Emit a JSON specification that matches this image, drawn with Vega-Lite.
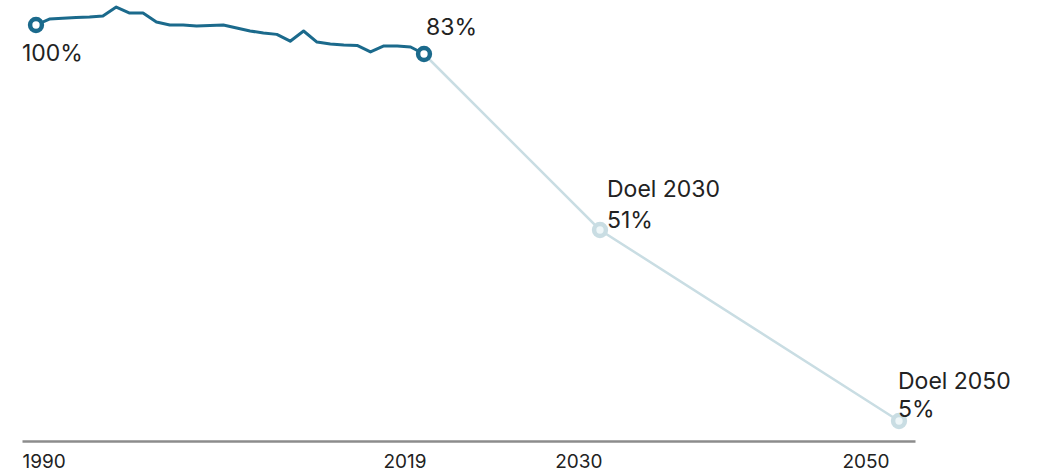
{
  "$schema": "https://vega.github.io/schema/vega-lite/v6.json",
  "width": 893,
  "height": 441,
  "autosize": "none",
  "padding": {"left": 22, "top": 0, "right": 130, "bottom": 32},
  "background": "white",
  "config": {"view": {"stroke": null}, "font": "Inter"},
  "datasets": {
    "historie": [
      {"jaar": 1990, "waarde": 100},
      {"jaar": 1991, "waarde": 103.5},
      {"jaar": 1992, "waarde": 104},
      {"jaar": 1993, "waarde": 104.4},
      {"jaar": 1994, "waarde": 104.7},
      {"jaar": 1995, "waarde": 105.3},
      {"jaar": 1996, "waarde": 110.5},
      {"jaar": 1997, "waarde": 107},
      {"jaar": 1998, "waarde": 107},
      {"jaar": 1999, "waarde": 101.8},
      {"jaar": 2000, "waarde": 100},
      {"jaar": 2001, "waarde": 100},
      {"jaar": 2002, "waarde": 99.4},
      {"jaar": 2003, "waarde": 99.7},
      {"jaar": 2004, "waarde": 100},
      {"jaar": 2005, "waarde": 98.2},
      {"jaar": 2006, "waarde": 96.5},
      {"jaar": 2007, "waarde": 95.3},
      {"jaar": 2008, "waarde": 94.5},
      {"jaar": 2009, "waarde": 90.5},
      {"jaar": 2010, "waarde": 96.5},
      {"jaar": 2011, "waarde": 90},
      {"jaar": 2012, "waarde": 88.9},
      {"jaar": 2013, "waarde": 88.3},
      {"jaar": 2014, "waarde": 88},
      {"jaar": 2015, "waarde": 84.2},
      {"jaar": 2016, "waarde": 87.7},
      {"jaar": 2017, "waarde": 87.7},
      {"jaar": 2018, "waarde": 87.1},
      {"jaar": 2019, "waarde": 83}
    ],
    "doel": [
      {"jaar": 2019, "waarde": 83},
      {"jaar": 2030, "waarde": 51},
      {"jaar": 2050, "waarde": 5}
    ],
    "punten": [
      {"jaar": 1990, "waarde": 100, "reeks": "historie", "label": "100%"},
      {"jaar": 2019, "waarde": 83, "reeks": "historie", "label": "83%"},
      {"jaar": 2030, "waarde": 51, "reeks": "doel", "label": "Doel 2030\n51%"},
      {"jaar": 2050, "waarde": 5, "reeks": "doel", "label": "Doel 2050\n5%"}
    ]
  },
  "encoding": {
    "x": {
      "field": "jaar",
      "type": "quantitative",
      "scale": {
        "domain": [1989, 1990, 2019, 2030, 2050, 2051],
        "range": [0, 14, 402, 578, 877, 893],
        "nice": false,
        "zero": false
      },
      "axis": {
        "values": [1990, 2019, 2030, 2050],
        "format": "d",
        "title": null,
        "ticks": false,
        "grid": false,
        "domainColor": "#8c8c8c",
        "domainWidth": 2.5,
        "labelFont": "Inter",
        "labelFontSize": 19,
        "labelColor": "#222222",
        "labelPadding": 11,
        "labelFlush": false,
        "labelOverlap": false,
        "labelAlign": {"condition": {"test": "datum.value == 1990", "value": "left"}, "value": "right"},
        "labelOffset": {"condition": [{"test": "datum.value == 1990", "value": -14}, {"test": "datum.value == 2050", "value": -10}], "value": 2}
      }
    },
    "y": {
      "field": "waarde",
      "type": "quantitative",
      "scale": {
        "domain": [5, 51, 83, 100],
        "range": [421, 230, 54, 25],
        "nice": false,
        "zero": false
      },
      "axis": null
    }
  },
  "layer": [
    {
      "data": {"name": "doel"},
      "mark": {"type": "line", "color": "#c9dde3", "strokeWidth": 2.5}
    },
    {
      "data": {"name": "historie"},
      "mark": {"type": "line", "color": "#1b6a8c", "strokeWidth": 3, "strokeJoin": "round"}
    },
    {
      "data": {"name": "punten"},
      "mark": {"type": "point", "shape": "circle", "size": 140, "strokeWidth": 4.5, "opacity": 1, "filled": false},
      "encoding": {
        "stroke": {"field": "reeks", "type": "nominal", "scale": {"domain": ["historie", "doel"], "range": ["#1b6a8c", "#c9dde3"]}, "legend": null},
        "fill": {"field": "reeks", "type": "nominal", "scale": {"domain": ["historie", "doel"], "range": ["#ffffff", "#eef6f8"]}, "legend": null},
        "fillOpacity": {"value": 1}
      }
    },
    {
      "data": {"name": "punten"},
      "transform": [{"filter": "datum.jaar == 1990"}],
      "mark": {"type": "text", "align": "left", "baseline": "middle", "dx": -14, "dy": 29, "fontSize": 23, "color": "#222222", "font": "Inter"},
      "encoding": {"text": {"field": "label"}}
    },
    {
      "data": {"name": "punten"},
      "transform": [{"filter": "datum.jaar == 2019"}],
      "mark": {"type": "text", "align": "left", "baseline": "middle", "dx": 2, "dy": -26, "fontSize": 23, "color": "#222222", "font": "Inter"},
      "encoding": {"text": {"field": "label"}}
    },
    {
      "data": {"name": "punten"},
      "transform": [{"filter": "datum.jaar == 2030"}],
      "mark": {"type": "text", "align": "left", "baseline": "middle", "lineBreak": "\n", "lineHeight": 31, "dx": 7, "dy": -40, "fontSize": 23, "color": "#222222", "font": "Inter"},
      "encoding": {"text": {"field": "label"}}
    },
    {
      "data": {"name": "punten"},
      "transform": [{"filter": "datum.jaar == 2050"}],
      "mark": {"type": "text", "align": "left", "baseline": "middle", "lineBreak": "\n", "lineHeight": 28, "dx": -1, "dy": -39, "fontSize": 23, "color": "#222222", "font": "Inter"},
      "encoding": {"text": {"field": "label"}}
    }
  ]
}
